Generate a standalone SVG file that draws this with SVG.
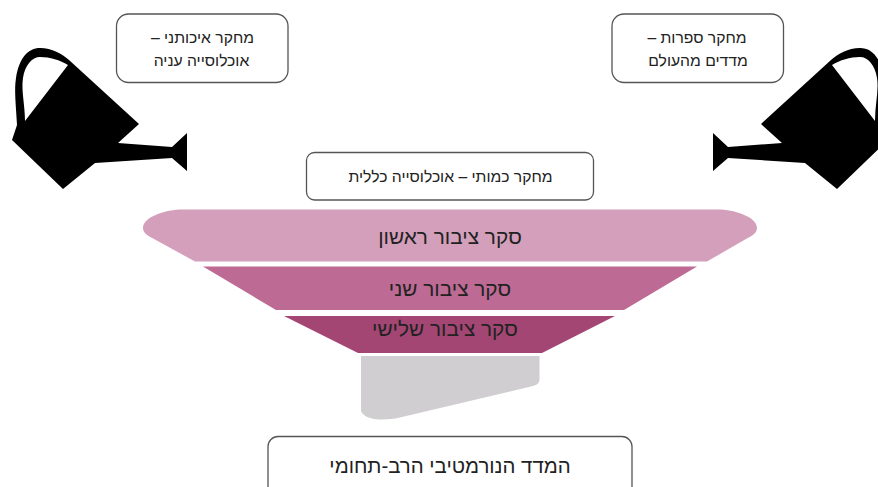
<svg xmlns="http://www.w3.org/2000/svg" xmlns:xlink="http://www.w3.org/1999/xlink" width="878" height="487" viewBox="0 0 878 487">
<style>
text{font-family:"Liberation Sans",Arial,sans-serif;fill:#222;text-anchor:middle;direction:rtl}
.box{fill:#fff;stroke:#555;stroke-width:1.3}
.s{font-size:15.7px}
.l{font-size:20.8px}
</style>
<defs>
<g id="can">
<path fill="#000" d="M12,140 L17,125 C16,105 14,90 16,78 C19,58 28,48 40,48 C52,48 62,54 69,60 L139,124 L118,143 L172,147 L187,133 L187,171 L172,158 L95,163 L63,189 Z"/>
<path fill="#fff" d="M25,121 C25,105 21,90 23,78 C25,65 32,57 40,57 C50,57 60,60 68,65 Z"/>
</g>
</defs>
<rect width="878" height="487" fill="#fff"/>
<g id="can-left"><use xlink:href="#can" href="#can"/></g>
<g id="can-right"><use xlink:href="#can" href="#can" transform="translate(900,0) scale(-1,1)"/></g>
<g id="box-qualitative"><rect class="box" x="116.5" y="14" width="171.5" height="68.5" rx="12"/><text class="s" x="202.500" y="43">מחקר איכותני –</text><text class="s" x="201.500" y="66">אוכלוסייה עניה</text></g>
<g id="box-literature"><rect class="box" x="612" y="14" width="171.5" height="68.5" rx="12"/><text class="s" x="697" y="43">מחקר ספרות –</text><text class="s" x="698" y="66">מדדים מהעולם</text></g>
<g id="box-quantitative"><rect class="box" x="306.5" y="152.5" width="287" height="47.5" rx="8"/><text class="s" x="450.500" y="182">מחקר כמותי – אוכלוסייה כללית</text></g>
<g id="band-1"><path fill="#d49fbb" d="M183,209.5 H717 C735,209.500 757,217 757,228 C757,233 752,236 746,239 L707,261.5 H195 L154,239 C148,236 143,233 143,228 C143,217 165,209.500 183,209.5 Z"/><text class="l" x="450" y="244">סקר ציבור ראשון</text></g>
<g id="band-2"><path fill="#bd6a94" d="M203,266.5 H697 L624,310 H276 Z"/><text class="l" x="450" y="296">סקר ציבור שני</text></g>
<g id="band-3"><path fill="#a34673" d="M284,316 H615 L542,353 H358 Z"/><text class="l" x="445" y="336">סקר ציבור שלישי</text></g>
<g id="grey-shape"><path fill="#d0ced0" d="M361,356 H539.5 V379 C539.5,383 537,385 533,386 L402,417 C390,420 378,420 372,418.500 C365,417 361,413 361,410 Z"/></g>
<g id="box-index"><rect class="box" x="268" y="436.500" width="364" height="60" rx="10"/><text class="l" x="450" y="473" style="font-size:20.4px">המדד הנורמטיבי הרב-תחומי</text></g>
<g id="connectors"/>
</svg>
